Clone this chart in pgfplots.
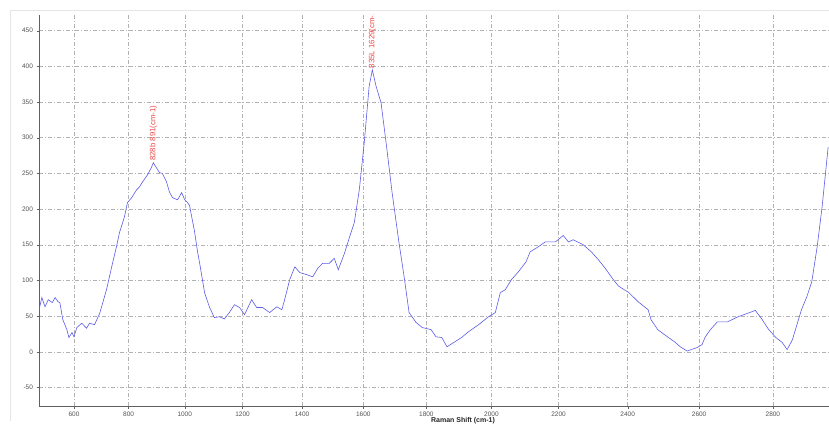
\documentclass[border=0pt]{standalone}
\usepackage{fontspec}
\setmainfont{Liberation Sans}
\usepackage{pgfplots}
\pgfplotsset{compat=1.18}
\definecolor{spec}{RGB}{92,92,228}
\definecolor{ann}{RGB}{235,70,70}
\begin{document}
\begin{tikzpicture}[x=1pt,y=1pt]
\path[use as bounding box] (0,0) rectangle (829,429);
\draw[gray!20] (10,8) -- (10,419) -- (829,419);
\begin{axis}[at={(39pt,23pt)}, anchor=south west, scale only axis,
  width=790pt, height=391pt,
  % the spectrometer's x axis is linear in wavelength: u = 10^7/(15045 - shift) / 10^4
  x filter/.code={\pgfmathparse{1000/(15.045-#1/1000)}},
  xmin=68.6059, xmax=82.6651, ymin=-76, ymax=472,
  axis x line*=bottom, axis y line*=left,
  axis line style={gray!75!black, line width=0.8pt},
  xtick={69.2281,70.2001,71.1997,72.2282,73.2869,74.3771,75.4998,76.6577,77.8513,79.0826,80.3536,81.6660},
  xticklabels={600,800,1000,1200,1400,1600,1800,2000,2200,2400,2600,2800},
  ytick={-50,0,50,100,150,200,250,300,350,400,450},
  /pgf/number format/assume math mode=true,
  tick label style={font=\fontsize{6.5}{7}\selectfont, text=gray!65!black},
  tick align=outside, major tick length=2.5pt, tick style={gray!75!black},
  grid=major,
  grid style={gray!60, dash pattern=on 4pt off 2pt on 1pt off 2pt, line width=0.45pt},
]
\addplot[spec, line width=0.6pt] coordinates {
(470,60) (480,76) (492,63) (504,73) (519,69) (530,76) (541,70) (548,69)
(559,45) (574,31) (581,20) (593,27) (600,21) (611,34) (629,40) (647,33)
(658,40) (676,38) (695,54) (720,87) (742,124) (756,147) (767,167) (785,189)
(796,209) (811,216) (829,227) (839,231) (850,238) (868,248) (882,258) (889,265)
(900,258) (911,251) (921,250) (936,238) (946,224) (957,216) (975,213) (989,223)
(1000,213) (1010,209) (1017,205) (1024,190) (1034,170) (1045,140) (1052,125)
(1069,83) (1086,63) (1103,48) (1121,49) (1138,46) (1155,55) (1172,66) (1190,62)
(1207,52) (1231,73) (1248,62) (1268,62) (1292,55) (1316,63) (1333,59) (1342,73)
(1359,101) (1376,119) (1393,111) (1416,108) (1435,105) (1452,117) (1468,124)
(1490,124) (1506,131) (1519,115) (1539,138) (1555,160) (1571,181) (1587,227)
(1603,293) (1619,372) (1629,395) (1641,372) (1657,349) (1673,293) (1692,223)
(1714,153) (1730,105) (1746,55) (1768,41) (1787,34) (1815,31) (1830,21)
(1848,20) (1864,7) (1885,13) (1909,20) (1930,28) (1961,38) (1991,49) (2012,55)
(2027,83) (2042,87) (2060,101) (2081,112) (2104,126) (2116,140) (2140,147)
(2161,154) (2191,154) (2214,163) (2229,154) (2243,157) (2272,150) (2296,140)
(2316,129) (2336,117) (2359,101) (2374,92) (2403,83) (2430,70) (2458,59)
(2466,45) (2485,31) (2512,21) (2532,14) (2548,7) (2567,1) (2595,6) (2608,10)
(2617,21) (2631,31) (2650,42) (2678,42) (2706,49) (2733,54) (2753,58) (2769,47)
(2789,31) (2808,20) (2825,13) (2838,3) (2852,17) (2876,59) (2890,77) (2903,98)
(2917,147) (2930,203) (2938,245) (2946,287)
};
\node[rotate=90, anchor=west, text=ann, font=\fontsize{7.8}{8}\selectfont, inner sep=1pt] at (axis cs:70.6414,266) {828b 891(cm-1)};
\node[rotate=90, anchor=west, text=ann, font=\fontsize{7.8}{8}\selectfont, inner sep=1pt] at (axis cs:74.5379,396) {835L 1629(cm-1)};
\end{axis}
\node[font=\bfseries\fontsize{7}{8}\selectfont, text=gray!30!black] at (463pt,8pt) {Raman Shift (cm-1)};
\end{tikzpicture}
\end{document}
